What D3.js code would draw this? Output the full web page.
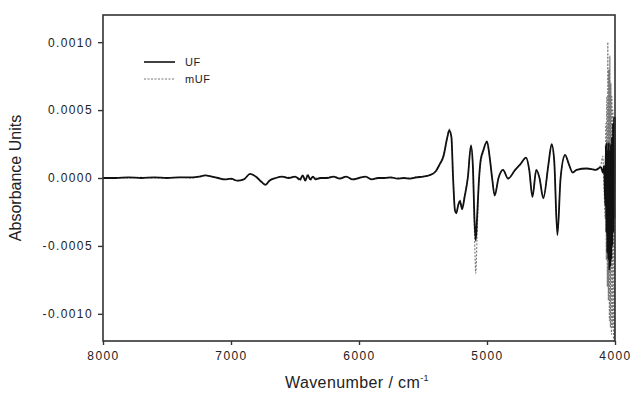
<!DOCTYPE html>
<html>
<head>
<meta charset="utf-8">
<script src="https://cdn.jsdelivr.net/npm/d3@7"></script>
<style>
  body { margin: 0; background: #fff; }
  svg { font-family: Arial, "Liberation Sans", sans-serif; }
</style>
</head>
<body>
<div id="chart"></div>
<script>
// wavenumber (cm-1) and absorbance
const wavenumbers = [
  8000, 7900, 7800, 7700, 7600, 7500, 7400, 7300, 7250, 7200, 7150, 7100, 7050, 7000,
  6950, 6900, 6850, 6800, 6760, 6730, 6700, 6650, 6600, 6550, 6500, 6460, 6440, 6420,
  6400, 6380, 6360, 6340, 6300, 6250, 6200, 6150, 6100, 6050, 6000, 5950, 5900, 5850,
  5800, 5750, 5700, 5650, 5600, 5550, 5500, 5450, 5400, 5370, 5340, 5310, 5295, 5278,
  5265, 5250, 5240, 5225, 5211, 5195, 5175, 5150, 5125, 5110, 5098, 5088, 5078, 5065,
  5050, 5030, 5000, 4980, 4960, 4940, 4910, 4875, 4835, 4780, 4740, 4695, 4670, 4645,
  4615, 4590, 4560, 4520, 4495, 4475, 4450, 4425, 4390, 4360, 4330, 4300, 4220, 4150,
  4110, 4095, 4085, 4076, 4072, 4068, 4064, 4060, 4056, 4052, 4048, 4044, 4040, 4036,
  4032, 4028, 4024, 4020, 4016, 4012, 4008, 4004, 4000
];
const ufValues = [
  0, 0, 0.000005, 0, 0.000005, 0, 0.000005, 0.000005, 0.00001, 0.00002, 0.00001, 0, -0.00001, -0.000005,
  -0.00002, -0.00001, 0.00003, 0.000005, -0.00003, -0.00005, -0.00002, 0, 0.00001, 0, 0.00001, -0.00001, 0.00002, -0.00002,
  0.00002, -0.00001, 0.00001, -0.00001, 0, 0, 0.00001, -0.000005, 0.00001, -0.00001, 0, 0.00001, -0.00001, 0,
  0, 0.000005, -0.000005, 0, -0.000005, 0.000005, 0.00001, 0.00002, 0.00005, 0.0001, 0.00016, 0.0003, 0.00035, 0.0003,
  0, -0.00024, -0.00026, -0.0002, -0.00017, -0.00023, -0.00014, 0, 0.00024, 0.00008, -0.0003, -0.00046, -0.0003, -0.00005,
  0.00013, 0.0002, 0.00027, 0.00016, 0, -0.00013, 0, 0.00006, -0.000005, 0.00006, 0.0001, 0.00015, 0.00006, -0.00014,
  0.00006, 0, -0.00015, 0.0001, 0.00025, 0.00013, -0.00042, 0, 0.00017, 0.0001, 0.00004, 0.00006, 0.00007, 0.00006,
  0.00008, 0.00004, 0.00009, -0.0002, 0.00024, -0.0004, 0.00026, -0.00055, 0.0002, -0.0006, 0.00026, -0.00068, 0.0002, -0.00065,
  0.00025, -0.0006, 0.0003, -0.0005, 0.0004, -0.0004, 0.00045, -0.0003, 0.00045
];
const mufValues = [
  0, 0, 0, 0.000005, 0, 0, 0.000005, 0, 0.00001, 0.00002, 0.00001, 0, -0.00001, -0.00001,
  -0.00002, -0.00001, 0.00003, 0.00001, -0.00003, -0.00005, -0.00002, 0, 0.00001, 0.000005, 0.00001, -0.00002, 0.00002, -0.00001,
  0.00003, -0.00002, 0.00001, 0, 0, 0.000005, 0.00001, 0, 0.00001, -0.00001, 0, 0.00001, -0.00001, 0,
  0, 0, 0, 0, 0, 0.00001, 0.00001, 0.00002, 0.00005, 0.0001, 0.00017, 0.0003, 0.00036, 0.00031,
  0.00002, -0.00024, -0.00025, -0.0002, -0.00016, -0.00022, -0.00013, 0.00001, 0.00023, 0.00006, -0.0004, -0.0007, -0.00045, -0.00006,
  0.0001, 0.00019, 0.00026, 0.00016, 0, -0.00012, 0, 0.00006, 0, 0.00006, 0.0001, 0.00015, 0.00006, -0.00013,
  0.00006, 0, -0.00014, 0.0001, 0.00024, 0.00012, -0.0004, 0, 0.00016, 0.0001, 0.00004, 0.00006, 0.00007, 0.00006,
  0.0001, 0.00016, -0.0001, -0.0003, 0.0004, -0.0006, 0.0006, -0.0008, 0.001, -0.0009, 0.0008, -0.00105, 0.0009, -0.0011,
  0.0007, -0.00115, 0.0006, -0.0011, 0.0005, -0.0012, 0.0004, -0.0012, 0.0004
];
const xTicks = [8000, 7000, 6000, 5000, 4000];
const yTicks = [-0.001, -0.0005, 0, 0.0005, 0.001];
const seriesNames = ['UF', 'mUF'];

const width = 631, height = 394;
const margin = {top: 15, right: 16, bottom: 53, left: 103};
const innerW = width - margin.left - margin.right;
const innerH = height - margin.top - margin.bottom;

const svg = d3.select('#chart')
  .append('svg')
  .attr('width', width)
  .attr('height', height);

const g = svg.append('g')
  .attr('transform', 'translate(' + margin.left + ',' + margin.top + ')');

const x = d3.scaleLinear().domain([8000, 4000]).range([0, innerW]);
const y = d3.scaleLinear().domain([-0.0012, 0.0012]).range([innerH, 0]);

// axes
const fmtY = d => d3.format('.4f')(d).replace('\u2212', '-');
const xAxis = g.append('g')
  .attr('transform', 'translate(0,' + innerH + ')')
  .call(d3.axisBottom(x).tickValues(xTicks).tickSize(4).tickPadding(6).tickFormat(d3.format('d')));
const yAxis = g.append('g')
  .call(d3.axisLeft(y).tickValues(yTicks).tickSize(5).tickPadding(5).tickFormat(fmtY));

[xAxis, yAxis].forEach(a => {
  a.select('.domain').remove();
  a.selectAll('line').attr('stroke', '#333').attr('stroke-width', 1.4);
  a.selectAll('text')
    .attr('fill', '#222')
    .attr('font-size', '12px')
    .attr('letter-spacing', '1.4px');
});

// lines (sorted by ascending wavenumber so the monotone curve behaves)
const line = d3.line()
  .curve(d3.curveMonotoneX)
  .x(d => x(d[0]))
  .y(d => y(d[1]));

const ufData = wavenumbers.map((w, i) => [w, ufValues[i]]).reverse();
const mufData = wavenumbers.map((w, i) => [w, mufValues[i]]).reverse();

g.append('path')
  .attr('d', line(mufData))
  .attr('fill', 'none')
  .attr('stroke', '#777')
  .attr('stroke-width', 1.1)
  .attr('stroke-dasharray', '2,1.5');

g.append('path')
  .attr('d', line(ufData))
  .attr('fill', 'none')
  .attr('stroke', '#111')
  .attr('stroke-width', 1.8)
  .attr('stroke-linejoin', 'round');

// frame
g.append('rect')
  .attr('width', innerW)
  .attr('height', innerH)
  .attr('fill', 'none')
  .attr('stroke', '#333')
  .attr('stroke-width', 1.6);

// legend
const legend = g.append('g').attr('transform', 'translate(41,47)');
seriesNames.forEach((name, i) => {
  legend.append('line')
    .attr('x1', 0).attr('x2', 31)
    .attr('y1', i * 17).attr('y2', i * 17)
    .attr('stroke', i === 0 ? '#111' : '#777')
    .attr('stroke-width', i === 0 ? 1.6 : 1)
    .attr('stroke-dasharray', i === 0 ? null : '2,1.5');
  legend.append('text')
    .attr('x', 41).attr('y', i * 17)
    .attr('dy', '0.35em')
    .attr('font-size', '11px')
    .attr('letter-spacing', '0.6px')
    .attr('fill', '#222')
    .text(name);
});

// axis titles
svg.append('text')
  .attr('transform', 'translate(21,' + (margin.top + innerH / 2) + ') rotate(-90)')
  .attr('text-anchor', 'middle')
  .attr('font-size', '16px')
  .attr('fill', '#222')
  .text('Absorbance Units');

const xt = svg.append('text')
  .attr('x', 357)
  .attr('y', 388)
  .attr('text-anchor', 'middle')
  .attr('font-size', '16px')
  .attr('letter-spacing', '0.4px')
  .attr('fill', '#222')
  .text('Wavenumber / cm');
xt.append('tspan')
  .attr('font-size', '9px')
  .attr('dy', '-7')
  .text('-1');
</script>
</body>
</html>
